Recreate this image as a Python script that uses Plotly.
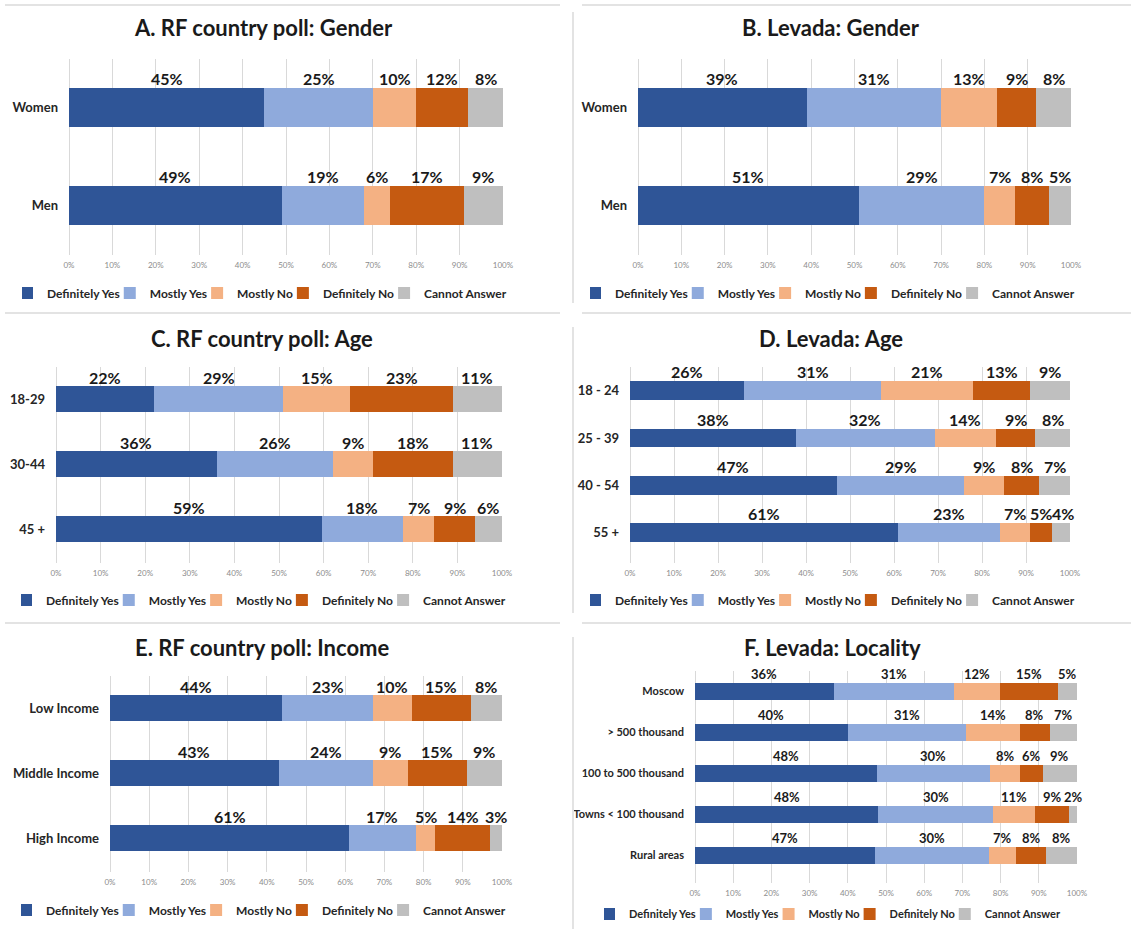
import plotly.graph_objects as go

W, H = 1131, 929

series = ["Definitely Yes", "Mostly Yes", "Mostly No", "Definitely No", "Cannot Answer"]
colors = ["#2F5597", "#8FAADC", "#F4B183", "#C55A11", "#BFBFBF"]

# A. RF country poll: Gender
a_categories = ["Women", "Men"]
a_definitely_yes = [45, 49]
a_mostly_yes = [25, 19]
a_mostly_no = [10, 6]
a_definitely_no = [12, 17]
a_cannot_answer = [8, 9]

# B. Levada: Gender
b_categories = ["Women", "Men"]
b_definitely_yes = [39, 51]
b_mostly_yes = [31, 29]
b_mostly_no = [13, 7]
b_definitely_no = [9, 8]
b_cannot_answer = [8, 5]

# C. RF country poll: Age
c_categories = ["18-29", "30-44", "45 +"]
c_definitely_yes = [22, 36, 59]
c_mostly_yes = [29, 26, 18]
c_mostly_no = [15, 9, 7]
c_definitely_no = [23, 18, 9]
c_cannot_answer = [11, 11, 6]

# D. Levada: Age
d_categories = ["18 - 24", "25 - 39", "40 - 54", "55 +"]
d_definitely_yes = [26, 38, 47, 61]
d_mostly_yes = [31, 32, 29, 23]
d_mostly_no = [21, 14, 9, 7]
d_definitely_no = [13, 9, 8, 5]
d_cannot_answer = [9, 8, 7, 4]

# E. RF country poll: Income
e_categories = ["Low Income", "Middle Income", "High Income"]
e_definitely_yes = [44, 43, 61]
e_mostly_yes = [23, 24, 17]
e_mostly_no = [10, 9, 5]
e_definitely_no = [15, 15, 14]
e_cannot_answer = [8, 9, 3]

# F. Levada: Locality
f_categories = ["Moscow", "> 500 thousand", "100 to 500 thousand", "Towns < 100 thousand", "Rural areas"]
f_definitely_yes = [36, 40, 48, 48, 47]
f_mostly_yes = [31, 31, 30, 30, 30]
f_mostly_no = [12, 14, 8, 11, 7]
f_definitely_no = [15, 8, 6, 9, 8]
f_cannot_answer = [5, 7, 9, 2, 8]

panels = [
    dict(title="A. RF country poll: Gender", cats=a_categories,
         vals=[a_definitely_yes, a_mostly_yes, a_mostly_no, a_definitely_no, a_cannot_answer],
         x0=69, x1=503, yt=58.5, yb=254.5, tx=263, ty=28, lx=267, ly=293, cf=13, lf=12, df=16),
    dict(title="B. Levada: Gender", cats=b_categories,
         vals=[b_definitely_yes, b_mostly_yes, b_mostly_no, b_definitely_no, b_cannot_answer],
         x0=638, x1=1071, yt=58.5, yb=254.5, tx=831, ty=28, lx=835, ly=293, cf=13, lf=12, df=16),
    dict(title="C. RF country poll: Age", cats=c_categories,
         vals=[c_definitely_yes, c_mostly_yes, c_mostly_no, c_definitely_no, c_cannot_answer],
         x0=56, x1=502, yt=367, yb=563, tx=262, ty=338, lx=266, ly=600, cf=13, lf=12, df=16),
    dict(title="D. Levada: Age", cats=d_categories,
         vals=[d_definitely_yes, d_mostly_yes, d_mostly_no, d_definitely_no, d_cannot_answer],
         x0=630, x1=1070, yt=367, yb=563, tx=831, ty=338, lx=835, ly=600, cf=13, lf=12, df=16),
    dict(title="E. RF country poll: Income", cats=e_categories,
         vals=[e_definitely_yes, e_mostly_yes, e_mostly_no, e_definitely_no, e_cannot_answer],
         x0=110, x1=502, yt=676, yb=872, tx=262, ty=647, lx=266, ly=910, cf=13, lf=12, df=16),
    dict(title="F. Levada: Locality", cats=f_categories,
         vals=[f_definitely_yes, f_mostly_yes, f_mostly_no, f_definitely_no, f_cannot_answer],
         x0=695, x1=1077, yt=671, yb=883, tx=832, ty=647, lx=835, ly=914, cf=11, lf=11, df=13),
]

FONT = "Lato"
fig = go.Figure()
annotations = []
layout_upd = {}


def px_x(x):
    return x / W


def px_y(y):
    return 1 - y / H


BAR_W = 0.4

for i, p in enumerate(panels):
    n = i + 1
    xa = "x" if n == 1 else f"x{n}"
    ya = "y" if n == 1 else f"y{n}"
    lg = "legend" if n == 1 else f"legend{n}"
    cats = p["cats"]
    totals = [sum(v[k] for v in p["vals"]) for k in range(len(cats))]
    for s, (name, col, vals) in enumerate(zip(series, colors, p["vals"])):
        fig.add_trace(go.Bar(
            y=cats, x=vals, orientation="h", name=name,
            marker=dict(color=col, line=dict(width=0)),
            width=BAR_W, xaxis=xa, yaxis=ya, legend=lg,
            hovertemplate="%{y}: %{x}%<extra>" + name + "</extra>",
        ))
    # labels above each segment (nudged right slightly if they would collide)
    n_cat = len(cats)
    spacing = (p["yb"] - p["yt"]) / n_cat
    shift = BAR_W * spacing / 2 + 9
    pxw = (p["x1"] - p["x0"]) / 100.0
    for k, c in enumerate(cats):
        cum = 0
        prev_right = -1e9
        for vals in p["vals"]:
            v = vals[k] / totals[k] * 100
            txt = f"{vals[k]}%"
            xc = cum + v / 2
            half = len(txt) * p["df"] * 0.58 / 2
            left = xc * pxw - half
            xs = 0
            if left < prev_right + 3:
                xs = prev_right + 3 - left
            prev_right = xc * pxw + half + xs
            annotations.append(dict(
                x=xc, y=c, xref=xa, yref=ya, text=txt,
                showarrow=False, yshift=shift, xshift=xs, xanchor="center", yanchor="middle",
                font=dict(family=FONT, size=p["df"], color="#1a1a1a", weight="bold"),
            ))
            cum += v
    # title
    annotations.append(dict(
        x=px_x(p["tx"]), y=px_y(p["ty"]), xref="paper", yref="paper",
        text=p["title"], showarrow=False, xanchor="center", yanchor="middle",
        font=dict(family=FONT, size=22, color="#1a1a1a", weight="bold"),
    ))
    xkey = "xaxis" if n == 1 else f"xaxis{n}"
    ykey = "yaxis" if n == 1 else f"yaxis{n}"
    layout_upd[xkey] = dict(
        domain=[px_x(p["x0"]), px_x(p["x1"])], anchor=ya, range=[0, 100],
        tickvals=list(range(0, 101, 10)), ticktext=[f"{t}%" for t in range(0, 101, 10)],
        showgrid=True, gridcolor="#d9d9d9", gridwidth=1, zeroline=True,
        zerolinecolor="#d9d9d9", zerolinewidth=1, showline=False, ticks="",
        tickfont=dict(family=FONT, size=8, color="#8c8c8c"), ticklabelstandoff=4,
        fixedrange=True, automargin=False,
    )
    layout_upd[ykey] = dict(
        domain=[px_y(p["yb"]), px_y(p["yt"])], anchor=xa, type="category",
        categoryorder="array", categoryarray=cats, autorange="reversed",
        showgrid=False, zeroline=False, showline=False, ticks="",
        tickfont=dict(family=FONT, size=p["cf"], color="#262626", weight="bold"),
        ticklabelstandoff=10, fixedrange=True, automargin=False,
    )
    layout_upd[lg] = dict(
        orientation="h", xref="container", yref="container",
        x=px_x(p["lx"]), xanchor="center", y=px_y(p["ly"]), yanchor="middle",
        font=dict(family=FONT, size=p["lf"], color="#262626", weight="bold"),
        bgcolor="rgba(0,0,0,0)", traceorder="normal", itemwidth=30, indentation=-15,
        itemclick=False, itemdoubleclick=False,
    )

# separator lines between panels
line_col = "#e3e3e3"
shapes = []
for (x0, y0, x1, y1) in [
    (5, 5, 560, 5), (582, 5, 1131, 5),
    (5, 313, 560, 313), (582, 313, 1131, 313),
    (5, 623, 560, 623), (582, 623, 1131, 623),
    (573, 12, 573, 303), (573, 327, 573, 613), (573, 637, 573, 929),
]:
    shapes.append(dict(type="line", xref="paper", yref="paper",
                       x0=px_x(x0), y0=px_y(y0), x1=px_x(x1), y1=px_y(y1),
                       line=dict(color=line_col, width=2)))

fig.update_layout(
    width=W, height=H, autosize=False,
    margin=dict(l=0, r=0, t=0, b=0, autoexpand=False),
    paper_bgcolor="white", plot_bgcolor="white",
    barmode="stack", barnorm="percent",
    font=dict(family=FONT),
    annotations=annotations, shapes=shapes,
    **layout_upd,
)

fig.write_html("out.html", config={"displayModeBar": False, "responsive": False},
               post_script="document.body.style.margin='0';")
